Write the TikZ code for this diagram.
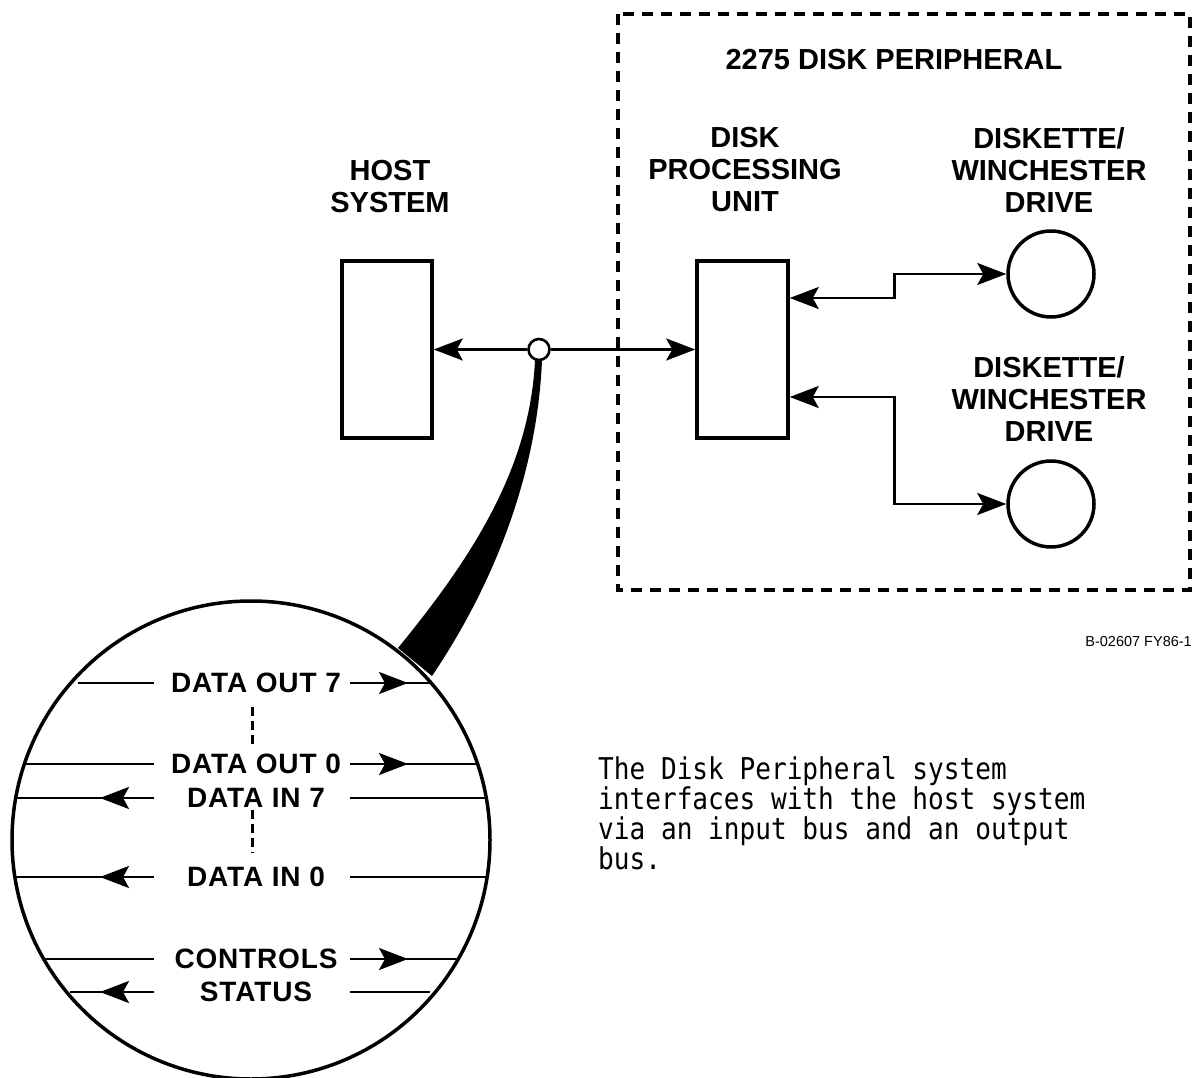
\documentclass[tikz,border=0pt]{standalone}
\usepackage{fontspec}
\setmainfont{Liberation Sans}
\newfontfamily\sigfont[LetterSpace=3]{Liberation Sans}
\newfontfamily\monofont[FakeStretch=0.87]{DejaVu Sans Mono}
\usetikzlibrary{arrows.meta}
\begin{document}
\begin{tikzpicture}[x=1pt,y=-1pt,
  >={Stealth[length=29pt,width=22pt,inset=6pt]},
  lbl/.style={font=\bfseries\fontsize{29}{32}\selectfont, align=center, inner sep=0pt},
  sig/.style={font=\sigfont\bfseries\fontsize{28}{30}\selectfont, inner sep=0pt},
  blk/.style={draw, line width=3.5pt, minimum width=90pt, minimum height=177pt, inner sep=0pt},
  drv/.style={draw, circle, line width=3.5pt, minimum size=86pt, inner sep=0pt},
  conn/.style={line width=2.6pt},
  bus/.style={line width=2.5pt},
  dots/.style={line width=3pt, dash pattern=on 9pt off 5pt},
  mono/.style={font=\monofont\fontsize{30}{30}\selectfont, anchor=base west, inner sep=0pt},
]
\useasboundingbox (0,0) rectangle (1192,1078);
\fill[white] (0,0) rectangle (1192,1078);

% peripheral boundary
\draw[line width=4pt, dash pattern=on 11pt off 8pt] (618,14) rectangle (1190,590);
\node[lbl] (perlbl) at (894,60) {2275 DISK PERIPHERAL};

% labels
\node[lbl] (hostlbl) at (390,187) {HOST\\SYSTEM};
\node[lbl] (dpulbl) at (745,170) {DISK\\PROCESSING\\UNIT};
\node[lbl] (d1lbl) at (1049,170) {DISKETTE/\\WINCHESTER\\DRIVE};
\node[lbl] (d2lbl) at (1049,399) {DISKETTE/\\WINCHESTER\\DRIVE};

% blocks
\node[blk] (host) at (387,349.5) {};
\node[blk, minimum width=91pt] (dpu) at (742.5,349.5) {};
\node[drv] (d1) at (1051,274) {};
\node[drv] (d2) at (1051,504) {};

% tether wedge
\fill (535,360) .. controls (530,470) and (470,560) .. (398,648) -- (432,676) .. controls (490,590) and (537,480) .. (542,360) -- cycle;

% junction
\node[circle, draw, fill=white, line width=2.6pt, minimum size=21pt, inner sep=0pt] (j) at (539,349.5) {};

% connectors
\draw[conn,->] (j.west) -- (host.east);
\draw[conn,->] (j.east) -- (dpu.west);
\draw[conn,<->] ([yshift=51.5pt]dpu.east) -- ++(105,0) |- (d1.west);
\draw[conn,<->] ([yshift=-47.5pt]dpu.east) -- ++(105,0) |- (d2.west);

% magnified bus
\begin{scope}
\clip (251,840) circle (238);
% DATA OUT 7
\draw[bus] (78,683) -- (154,683);
\draw[bus,->] (350,683) -- (408,683);
\draw[bus] (402,683) -- (500,683);
% DATA OUT 0
\draw[bus] (0,764) -- (154,764);
\draw[bus,->] (350,764) -- (408,764);
\draw[bus] (402,764) -- (500,764);
% DATA IN 7
\draw[bus,->] (154,798) -- (100,798);
\draw[bus] (106,798) -- (0,798);
\draw[bus] (350,798) -- (500,798);
% DATA IN 0
\draw[bus,->] (154,877) -- (100,877);
\draw[bus] (106,877) -- (0,877);
\draw[bus] (350,877) -- (500,877);
% CONTROLS
\draw[bus] (0,959) -- (154,959);
\draw[bus,->] (350,959) -- (408,959);
\draw[bus] (402,959) -- (500,959);
% STATUS
\draw[bus,->] (154,992) -- (100,992);
\draw[bus] (106,992) -- (70,992);
\draw[bus] (350,992) -- (430,992);
\end{scope}
\node[draw, circle, line width=3.5pt, minimum size=478pt, inner sep=0pt] (mag) at (251,840) {};

\draw[dots] (252,707) -- (252,745);
\draw[dots] (252,810) -- (252,853);

\node[sig] (so7) at (256,683) {DATA OUT 7};
\node[sig] (so0) at (256,764) {DATA OUT 0};
\node[sig] (si7) at (256,798) {DATA IN 7};
\node[sig] (si0) at (256,877) {DATA IN 0};
\node[sig] (sc) at (256,959) {CONTROLS};
\node[sig] (ss) at (256,992) {STATUS};

% figure number
\node[font=\fontsize{14.5}{16}\selectfont, anchor=base east, inner sep=0pt] (fig) at (1192,646) {B-02607 FY86-1};

% caption
\node[mono] (t1) at (598,779) {The Disk Peripheral system};
\node[mono] (t2) at (598,809) {interfaces with the host system};
\node[mono] (t3) at (598,839) {via an input bus and an output};
\node[mono] (t4) at (598,869) {bus.};
\end{tikzpicture}
\end{document}
